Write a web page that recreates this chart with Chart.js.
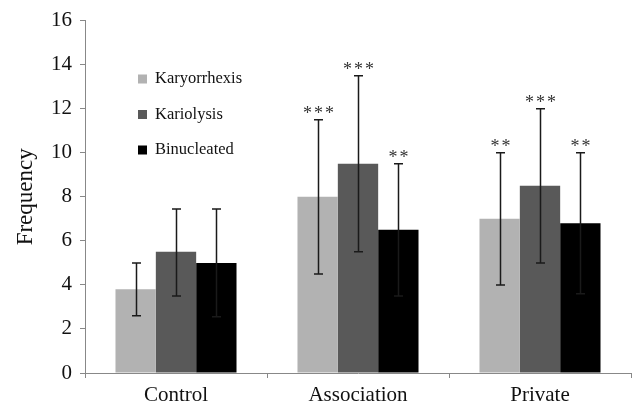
<!DOCTYPE html>
<html>
<head>
<meta charset="utf-8">
<script src="https://cdn.jsdelivr.net/npm/chart.js@4/dist/chart.umd.min.js"></script>
<style>
  html, body { margin: 0; padding: 0; background: #fff; }
  canvas { display: block; }
</style>
</head>
<body>
<canvas id="chart" width="632" height="406"></canvas>
<script>
'use strict';

// data
const categories = ['Control', 'Association', 'Private'];
const seriesNames = ['Karyorrhexis', 'Kariolysis', 'Binucleated'];
const seriesColors = ['#b2b2b2', '#595959', '#000000'];

const karyorrhexis = [3.8, 8.0, 7.0];
const kariolysis = [5.5, 9.5, 8.5];
const binucleated = [5.0, 6.5, 6.8];

// error bars: [upper, lower] arms
const karyorrhexisErr = [[1.2, 1.2], [3.5, 3.5], [3.0, 3.0]];
const kariolysisErr = [[1.95, 2.0], [4.0, 4.0], [3.5, 3.5]];
const binucleatedErr = [[2.45, 2.45], [3.0, 3.0], [3.2, 3.2]];

// significance marks above each bar
const karyorrhexisStars = ['', '***', '**'];
const kariolysisStars = ['', '***', '***'];
const binucleatedStars = ['', '**', '**'];

const yTicks = [0, 2, 4, 6, 8, 10, 12, 14, 16];

const serif = '"Liberation Serif", "DejaVu Serif", serif';
const values = [karyorrhexis, kariolysis, binucleated];
const errors = [karyorrhexisErr, kariolysisErr, binucleatedErr];
const stars = [karyorrhexisStars, kariolysisStars, binucleatedStars];

const errorBarPlugin = {
    id: 'errorBars',
    afterDatasetsDraw(chart) {
        const ctx = chart.ctx;
        const y = chart.scales.y;
        ctx.save();
        chart.data.datasets.forEach((ds, i) => {
            const meta = chart.getDatasetMeta(i);
            meta.data.forEach((bar, j) => {
                const v = values[i][j];
                const [up, down] = errors[i][j];
                const yTop = y.getPixelForValue(v + up);
                const yBot = y.getPixelForValue(v - down);
                const x = Math.round(bar.x) + 0.5;
                ctx.strokeStyle = '#1a1a1a';
                ctx.lineWidth = 1.5;
                ctx.beginPath();
                ctx.moveTo(x, yTop);
                ctx.lineTo(x, yBot);
                ctx.moveTo(x - 4.5, yTop);
                ctx.lineTo(x + 4.5, yTop);
                ctx.moveTo(x - 4.5, yBot);
                ctx.lineTo(x + 4.5, yBot);
                ctx.stroke();

                const s = stars[i][j];
                if (s) {
                    ctx.fillStyle = '#333';
                    ctx.font = '18px ' + serif;
                    ctx.letterSpacing = '2px';
                    ctx.textAlign = 'center';
                    ctx.textBaseline = 'alphabetic';
                    // letterSpacing adds a trailing gap, nudge by 1px
                    ctx.fillText(s, x + 1, yTop - 1);
                    ctx.letterSpacing = '0px';
                }
            });
        });
        ctx.restore();
    }
};

const legendPlugin = {
    id: 'innerLegend',
    afterDraw(chart) {
        const ctx = chart.ctx;
        ctx.save();
        ctx.font = '16.5px ' + serif;
        ctx.textBaseline = 'middle';
        ctx.textAlign = 'left';
        seriesNames.forEach((name, i) => {
            const cy = 79 + i * 35.5;
            ctx.fillStyle = seriesColors[i];
            ctx.fillRect(138, cy - 4.5, 9, 9);
            ctx.fillStyle = '#111';
            ctx.fillText(name, 155, cy);
        });
        ctx.restore();
    }
};

new Chart(document.getElementById('chart'), {
    type: 'bar',
    data: {
        labels: categories,
        datasets: seriesNames.map((name, i) => ({
            label: name,
            data: values[i],
            backgroundColor: seriesColors[i],
            borderWidth: 0,
            barPercentage: 1.0,
            categoryPercentage: 0.665
        }))
    },
    options: {
        responsive: false,
        animation: false,
        layout: { padding: { top: 16, right: 1, left: 0, bottom: 0 } },
        plugins: {
            legend: { display: false },
            tooltip: { enabled: false }
        },
        scales: {
            x: {
                grid: {
                    offset: true,
                    drawOnChartArea: false,
                    drawTicks: true,
                    tickLength: 5,
                    color: '#888'
                },
                border: { color: '#888', width: 1 },
                ticks: {
                    color: '#111',
                    font: { family: serif, size: 21 },
                    padding: 5
                },
                afterFit(scale) { scale.height = 33; }
            },
            y: {
                min: 0,
                max: 16,
                afterBuildTicks(scale) {
                    scale.ticks = yTicks.map(v => ({ value: v }));
                },
                grid: {
                    drawOnChartArea: false,
                    drawTicks: true,
                    tickLength: 5,
                    color: '#888'
                },
                border: { color: '#888', width: 1 },
                ticks: {
                    color: '#111',
                    font: { family: serif, size: 21 },
                    padding: 8
                },
                title: {
                    display: true,
                    text: 'Frequency',
                    color: '#111',
                    font: { family: serif, size: 23 },
                    padding: { top: 12, bottom: 6 }
                },
                afterFit(scale) { scale.width = 85; }
            }
        }
    },
    plugins: [errorBarPlugin, legendPlugin]
});
</script>
</body>
</html>
